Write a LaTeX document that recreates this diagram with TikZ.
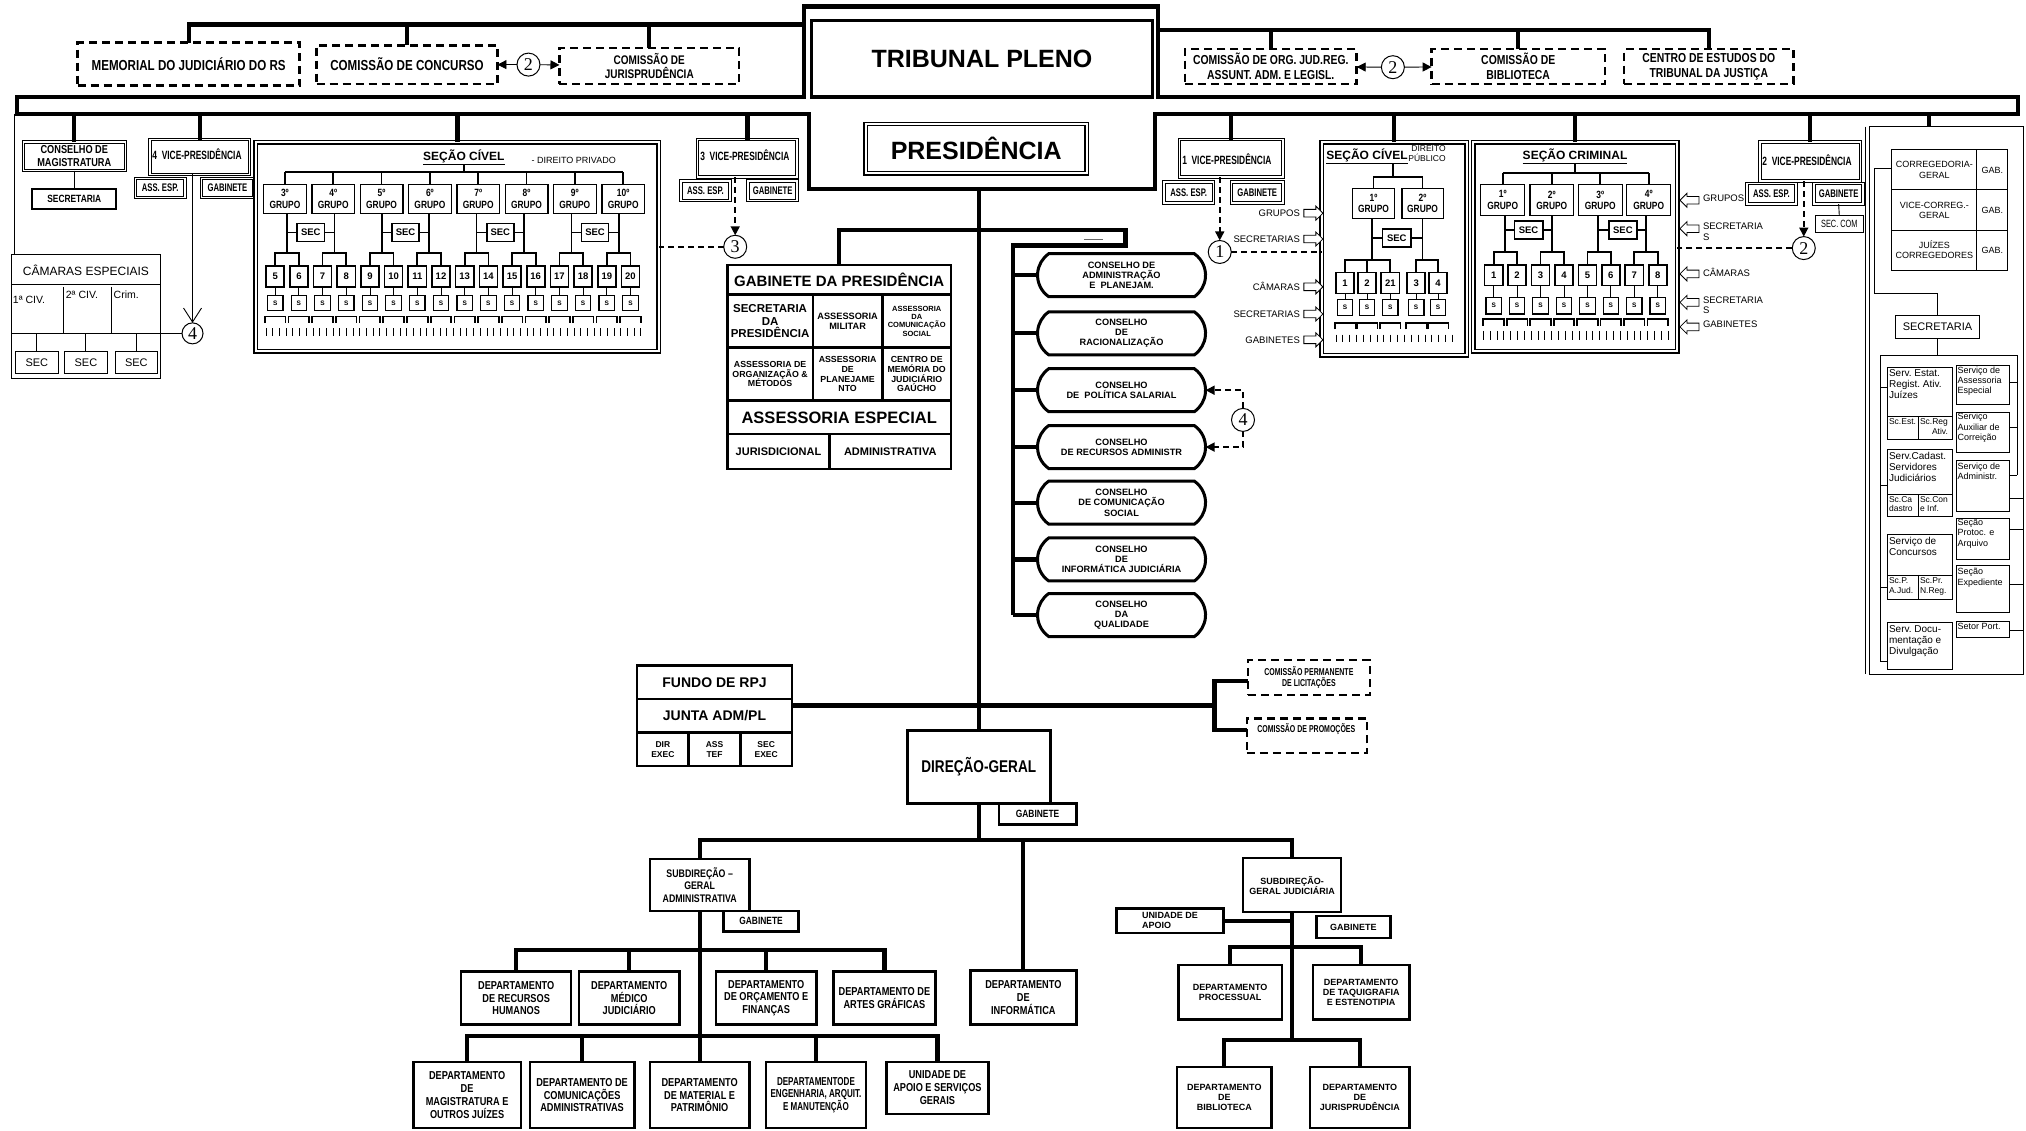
\documentclass[tikz,border=0pt]{standalone}
\usepackage{fontspec}
\setmainfont{Liberation Sans}
\newfontfamily\nar[FakeStretch=0.8]{Liberation Sans}
\newfontfamily\vnar[FakeStretch=0.7]{Liberation Sans}
\newfontfamily\sernum{Liberation Serif}
\usetikzlibrary{shapes.misc,shapes.arrows,arrows.meta}
\newcommand\fs[1]{\fontsize{#1}{\the\dimexpr #1pt*112/100\relax}\selectfont}
% box from corner (x1,y1) to (x2,y2), in picture units
\newcommand\BX[7][]{%
  \pgfmathsetmacro\bxw{(#5-(#3))*1.2921}%
  \pgfmathsetmacro\bxh{(#6-(#4))*1.2921}%
  \node[#1,minimum width=\bxw pt,minimum height=\bxh pt] (#2) at ({((#3)+(#5))/2},{((#4)+(#6))/2}) {#7};}
\begin{document}
\begin{tikzpicture}[x=1.2921pt,y=-1.2921pt,
 every node/.style={inner sep=0pt,outer sep=0pt,align=center},
 bx/.style={draw,line width=2.4pt,fill=white},
 dbl/.style={draw,double,double distance=1.5pt,line width=1pt,fill=white},
 dsh/.style={draw,line width=2.6pt,dash pattern=on 8pt off 5pt,fill=white},
 thn/.style={draw,line width=0.9pt,fill=white},
 grp/.style={draw,line width=1.3pt,fill=white,font=\nar\bfseries\fs{10.5}},
 cam/.style={draw,line width=1.6pt,fill=white,font=\bfseries\fs{9.5}},
 sbx/.style={draw,line width=1.2pt,fill=white,font=\bfseries\fs{6.5}},
 secb/.style={draw,line width=1.7pt,fill=white,font=\bfseries\fs{9.5}},
 lnThick/.style={line width=4.2pt},
 lnMed/.style={line width=1.7pt},
 lnThin/.style={line width=0.9pt},
 dsl/.style={line width=1.6pt,dash pattern=on 6pt off 4pt},
 arrtip/.style={-{Triangle[length=9pt,width=9pt]}},
 circ/.style={circle,draw,line width=1pt,minimum size=23pt,fill=white,font=\sernum\fs{18}},
 har/.style={single arrow,draw,line width=0.8pt,fill=white,minimum height=19pt,inner xsep=0pt,inner ysep=3.4pt,single arrow head extend=3.2pt},
 cons/.style={rounded rectangle,rounded rectangle arc length=110,draw,line width=3pt,fill=white,minimum width=168pt,minimum height=43pt,font=\bfseries\fs{9.2}},
 lbl/.style={font=\fs{9.5}},
 dept/.style={bx,font=\nar\bfseries\fs{11.5}},
 deptw/.style={bx,font=\bfseries\fs{9}},
]
\useasboundingbox (0,0) rectangle (1568,875);

% ---------- frame of Tribunal Pleno / Presidencia and the two bars
\draw[lnThick] (13,75) -- (622,75) -- (622,5) -- (896,5) -- (896,75) -- (1562,75) -- (1562,88)
  -- (894,88) -- (894,146) -- (626,146) -- (626,88) -- (13,88) -- cycle;
\coordinate (bl) at (0,88);

% ---------- top row
\BX[dsh,font=\nar\bfseries\fs{14.5}]{memo}{60}{33}{232}{66}{MEMORIAL DO JUDICIÁRIO DO RS}
\BX[dsh,font=\nar\bfseries\fs{14.5}]{ccon}{245}{35}{385}{65}{COMISSÃO DE CONCURSO}
\node[circ] (ctwoa) at (409,50) {2};
\BX[dsh,font=\nar\bfseries\fs{12.5}]{cjur}{433}{37}{572}{65}{COMISSÃO DE\\JURISPRUDÊNCIA}
\draw[lnThin,arrtip] (ctwoa) -- (ccon);
\draw[lnThin,arrtip] (ctwoa) -- (cjur);
\coordinate (tl) at (622,19);
\draw[lnThick] (memo.north) |- (tl);
\draw[lnThick] (ccon.north) -- (ccon.north |- tl);
\draw[lnThick] (cjur.north) -- (cjur.north |- tl);

\BX[bx,line width=3.2pt,font=\bfseries\fs{25}]{tp}{628}{16}{892}{75}{TRIBUNAL PLENO}

\BX[dsh,font=\nar\bfseries\fs{13}]{corg}{917}{38}{1050}{65}{COMISSÃO DE ORG. JUD.REG.\\ASSUNT. ADM. E LEGISL.}
\node[circ] (ctwob) at (1078,52) {2};
\BX[dsh,font=\nar\bfseries\fs{13}]{cbib}{1108}{38}{1242}{65}{COMISSÃO DE\\BIBLIOTECA}
\BX[dsh,font=\nar\bfseries\fs{13}]{cest}{1257}{38}{1388}{65}{CENTRO DE ESTUDOS DO\\TRIBUNAL DA JUSTIÇA}
\draw[lnThin,arrtip] (ctwob) -- (corg);
\draw[lnThin,arrtip] (ctwob) -- (cbib);
\coordinate (tr) at (896,23);
\draw[lnThick] (cest.north) |- (tr);
\draw[lnThick] (corg.north) -- (corg.north |- tr);
\draw[lnThick] (cbib.north) -- (cbib.north |- tr);

\BX[dbl,line width=1.4pt,double distance=2pt,font=\bfseries\fs{25}]{pres}{670}{96}{841}{134}{PRESIDÊNCIA}

% ---------- left branch
\BX[dbl,font=\nar\bfseries\fs{11.5}]{cmag}{18}{110}{97}{132}{CONSELHO DE\\MAGISTRATURA}
\BX[bx,line width=2pt,font=\nar\bfseries\fs{10.5}]{secm}{25}{146}{90}{162}{SECRETARIA}
\draw[lnThick] (cmag.north) -- (cmag.north |- bl);
\draw[lnThin] (cmag.south) -- (secm.north);

\BX[dbl]{vpq}{116}{108}{193}{135}{}
\node[anchor=west,font=\vnar\bfseries\fs{12}] (vpqt) at (118,119) {4\ \ VICE-PRESIDÊNCIA};
\BX[dbl,font=\vnar\bfseries\fs{11}]{assq}{105}{138}{143}{153}{ASS. ESP.}
\BX[dbl,font=\vnar\bfseries\fs{11}]{gabq}{156}{138}{196}{153}{GABINETE}
\draw[lnThick] (vpq.north) -- (vpq.north |- bl);
\node[circ,minimum size=21pt] (cfoura) at (149,258) {4};
\draw[lnThin,-{Straight Barb[length=14pt,width=18pt]}] (vpq.south -| cfoura) -- (cfoura.north);

% Camaras especiais
\coordinate (blc) at (11,88);
\BX[thn]{cesp}{9}{197}{124}{293}{}
\draw[lnThin] (blc) -- (blc |- cesp.north);
\node[font=\fs{12}] (cespt) at (66.5,209) {CÂMARAS ESPECIAIS};
\draw[lnThin] (9,220) -- (124,220);
\draw[lnThin] (49,222) -- (49,258);
\draw[lnThin] (86,222) -- (86,258);
\draw[lnThin] (9,258) -- (cfoura.west);
\node[anchor=north west,font=\fs{10.5}] (cca) at (10,229) {1ª CIV.};
\node[anchor=north west,font=\fs{10.5}] (ccb) at (51,225) {2ª CIV.};
\node[anchor=north west,font=\fs{10.5}] (ccc) at (88,225) {Crim.};
\coordinate (ch) at (0,258);
\BX[thn,font=\fs{11}]{csa}{12}{272}{45}{289}{SEC}
\BX[thn,font=\fs{11}]{csb}{50}{272}{83}{289}{SEC}
\BX[thn,font=\fs{11}]{csc}{89}{272}{122}{289}{SEC}
\foreach \s in {csa,csb,csc} \draw[lnThin] (\s.north) -- (\s.north |- ch);

% Secao civel - direito privado
\BX[dbl,line width=1.5pt,double distance=2pt]{scp}{198}{110}{510}{272}{}
\draw[lnThick] (scp.north) -- (scp.north |- bl);
\node[font=\bfseries\fs{12}] (scpt) at (359,122) {\underline{SEÇÃO CÍVEL}};
\node[font=\fs{9}] (scps) at (444,124) {- DIREITO PRIVADO};
\coordinate (scph) at (0,133);
\foreach \i in {1,...,8}{
  \pgfmathsetmacro\gx{220.5+37.4*(\i-1)}
  \pgfmathtruncatemacro\gn{\i+2}
  \BX[grp]{pg\i}{\gx-16.5}{143}{\gx+16.5}{165}{\gn º\\GRUPO}
  \pgfmathsetmacro\vx{222.2+36.67*(\i-1)}
  \coordinate (pv\i) at (\vx,196);
  \draw[lnMed] (pg\i.south -| pv\i) -- (pv\i);
  \draw[lnMed] (pg\i.north) -- (pg\i.north |- scph);
}
\draw[lnMed] (pg1.north |- scph) -- (pg8.north |- scph);
\draw[lnMed] (scpt.south) -- (scpt.south |- scph);
\foreach \k in {1,...,16}{
  \pgfmathsetmacro\cx{213+18.33*(\k-1)}
  \pgfmathtruncatemacro\cnum{\k+4}
  \BX[cam]{pc\k}{\cx-7}{206}{\cx+7}{222}{\cnum}
  \BX[sbx]{ps\k}{\cx-6}{229}{\cx+6}{240}{S}
  \draw[lnThin] (pc\k.south) -- (ps\k.north);
  \draw[lnMed] ({\cx-8},250) -- ({\cx-8},245) -- ({\cx+8},245) -- ({\cx+8},250);
}
\foreach \j in {1,...,8}{
  \pgfmathtruncatemacro\cmA{2*\j-1}
  \pgfmathtruncatemacro\cmB{2*\j}
  \draw[lnMed] (pc\cmA.north) |- (pv\j) -| (pc\cmB.north);
}
\foreach \pp in {1,...,4}{
  \pgfmathtruncatemacro\gA{2*\pp-1}
  \pgfmathtruncatemacro\gB{2*\pp}
  \pgfmathsetmacro\sx{222.2+36.67*(2*\pp-2)+18.33}
  \BX[secb]{pse\pp}{\sx-10.5}{173}{\sx+10.5}{187}{SEC}
  \draw[lnMed] (pse\pp.west) -- (pse\pp.west -| pv\gA);
  \draw[lnMed] (pse\pp.east) -- (pse\pp.east -| pv\gB);
}
\foreach \tk in {0,...,56} \draw[line width=1pt] ({206+5.18*\tk},254) -- ({206+5.18*\tk},260);

% 3 vice-presidencia
\BX[dbl]{vpt}{540}{108}{617}{137}{}
\node[anchor=west,font=\vnar\bfseries\fs{12}] (vptt) at (542,120) {3\ \ VICE-PRESIDÊNCIA};
\BX[dbl,font=\vnar\bfseries\fs{11}]{asst}{527}{140}{565}{155}{ASS. ESP.}
\BX[dbl,font=\vnar\bfseries\fs{11}]{gabt}{579}{140}{617}{155}{GABINETE}
\draw[lnThick] (vpt.north) -- (vpt.north |- bl);
\node[circ] (cthree) at (569,191) {3};
\draw[dsl,arrtip] (vpt.south -| cthree) -- (cthree.north);
\draw[dsl] (cthree.west) -- (cthree.west -| scp.east);

% ---------- centre
\BX[bx,line width=3pt,font=\nar\bfseries\fs{17}]{dg}{702}{565}{813}{622}{DIREÇÃO-GERAL}
\coordinate (pf) at (757.5,146);
\draw[lnThick] (pf) -- (dg.north);

\BX[bx,font=\bfseries\fs{15}]{gp}{563}{205}{736}{228}{GABINETE DA PRESIDÊNCIA}
\BX[bx,font=\bfseries\fs{11.5}]{gpa}{563}{228}{629}{269}{SECRETARIA\\DA\\PRESIDÊNCIA}
\BX[bx,font=\bfseries\fs{9.2}]{gpb}{629}{228}{683}{269}{ASSESSORIA\\MILITAR}
\BX[bx,font=\bfseries\fs{7.5}]{gpc}{683}{228}{736}{269}{ASSESSORIA\\DA\\COMUNICAÇÃO\\SOCIAL}
\BX[bx,font=\bfseries\fs{8.8}]{gpd}{563}{269}{629}{310}{ASSESSORIA DE\\ORGANIZAÇÃO \&\\MÉTODOS}
\BX[bx,font=\bfseries\fs{8.8}]{gpe}{629}{269}{683}{310}{ASSESSORIA\\DE\\PLANEJAME\\NTO}
\BX[bx,font=\bfseries\fs{8.8}]{gpf}{683}{269}{736}{310}{CENTRO DE\\MEMÓRIA DO\\JUDICIÁRIO\\GAÚCHO}
\BX[bx,font=\bfseries\fs{16.5}]{gpg}{563}{310}{736}{336}{ASSESSORIA ESPECIAL}
\BX[bx,font=\bfseries\fs{11}]{gph}{563}{336}{642}{363}{JURISDICIONAL}
\BX[bx,font=\bfseries\fs{11}]{gpi}{642}{336}{736}{363}{ADMINISTRATIVA}
\coordinate (br) at (757.5,178);
\draw[lnThick] (gp.north) |- (br);

\node[cons] (ka) at (868,213) {CONSELHO DE\\ADMINISTRAÇÃO\\E\ \ PLANEJAM.};
\node[cons] (kb) at (868,258) {CONSELHO\\DE\\RACIONALIZAÇÃO};
\node[cons] (kc) at (868,302) {CONSELHO\\DE\ \ POLÍTICA SALARIAL};
\node[cons] (kd) at (868,346) {CONSELHO\\DE RECURSOS ADMINISTR};
\node[cons] (ke) at (868,389) {CONSELHO\\DE COMUNICAÇÃO\\SOCIAL};
\node[cons] (kf) at (868,433) {CONSELHO\\DE\\INFORMÁTICA JUDICIÁRIA};
\node[cons] (kg) at (868,476) {CONSELHO\\DA\\QUALIDADE};
\coordinate (bra) at (871,178);
\coordinate (brb) at (871,190);
\coordinate (cs) at (784,190);
\draw[lnThick] (br) -- (bra) -- (brb) -- (cs) -- (cs |- kg.west);
\foreach \kk in {ka,kb,kc,kd,ke,kf,kg} \draw[lnThick] (cs |- \kk.west) -- (\kk.west);
\draw[line width=1.3pt,black!60] (839,185.5) -- (854,185.5);
\node[circ] (cfourb) at (962,325) {4};
\draw[dsl,arrtip] (cfourb.north) |- (kc.east);
\draw[dsl,arrtip] (cfourb.south) |- (kd.east);

% Fundo / Junta
\BX[bx,font=\bfseries\fs{14}]{fra}{493}{515}{613}{541}{FUNDO DE RPJ}
\BX[bx,font=\bfseries\fs{14}]{frb}{493}{541}{613}{567}{JUNTA ADM/PL}
\BX[bx,font=\bfseries\fs{8.5}]{frc}{493}{567}{533}{593}{DIR\\EXEC}
\BX[bx,font=\bfseries\fs{8.5}]{frd}{533}{567}{573}{593}{ASS\\TEF}
\BX[bx,font=\bfseries\fs{8.5}]{fre}{573}{567}{613}{593}{SEC\\EXEC}
\BX[dsh,line width=2.2pt,font=\vnar\bfseries\fs{10}]{cpl}{966}{511}{1060}{538}{COMISSÃO PERMANENTE\\DE LICITAÇÕES}
\BX[dsh,line width=2.2pt]{cpr}{965}{556}{1058}{583}{}
\node[font=\vnar\bfseries\fs{10}] (cprt) at (1011,564) {COMISSÃO DE PROMOÇÕES};
\coordinate (cj) at (940,546);
\coordinate (cjt) at (940,527);
\coordinate (cjb) at (940,565);
\draw[lnThick] (frb.east |- cj) -- (cj);
\draw[lnThick] (cpl.west |- cjt) -- (cjt) -- (cjb) -- (cpr.west |- cjb);

\BX[bx,font=\nar\bfseries\fs{10.5}]{dgg}{773}{622}{833}{638}{GABINETE}

% Subdirecao administrativa
\BX[bx,font=\nar\bfseries\fs{11}]{sga}{503}{665}{580}{705}{SUBDIREÇÃO –\\GERAL\\ADMINISTRATIVA}
\BX[bx,font=\nar\bfseries\fs{10.5}]{sgag}{560}{705}{618}{721}{GABINETE}
\BX[dept]{drh}{357}{752}{442}{793}{DEPARTAMENTO\\DE RECURSOS\\HUMANOS}
\BX[dept]{dmed}{448}{752}{526}{793}{DEPARTAMENTO\\MÉDICO\\JUDICIÁRIO}
\BX[dept]{dorc}{554}{752}{632}{793}{DEPARTAMENTO\\DE ORÇAMENTO E\\FINANÇAS}
\BX[dept]{dart}{645}{752}{724}{793}{DEPARTAMENTO DE\\ARTES GRÁFICAS}
\BX[dept]{dmag}{320}{822}{403}{873}{DEPARTAMENTO\\DE\\MAGISTRATURA E\\OUTROS JUÍZES}
\BX[dept]{dcom}{410}{822}{491}{873}{DEPARTAMENTO DE\\COMUNICAÇÕES\\ADMINISTRATIVAS}
\BX[dept]{dmat}{503}{822}{580}{873}{DEPARTAMENTO\\DE MATERIAL E\\PATRIMÔNIO}
\BX[dept,font=\vnar\bfseries\fs{11.5}]{deng}{593}{822}{670}{873}{DEPARTAMENTODE\\ENGENHARIA, ARQUIT.\\E MANUTENÇÃO}
\BX[dept]{duni}{686}{822}{765}{862}{UNIDADE DE\\APOIO E SERVIÇOS\\GERAIS}
\BX[dept]{dinf}{751}{751}{833}{793}{DEPARTAMENTO\\DE\\INFORMÁTICA}

% Subdirecao judiciaria
\BX[deptw]{sgj}{962}{664}{1038}{706}{SUBDIREÇÃO-\\GERAL JUDICIÁRIA}
\BX[deptw]{sgjg}{1019}{709}{1076}{726}{GABINETE}
\BX[deptw,align=left]{uap}{864}{703}{947}{722}{UNIDADE DE\\APOIO}
\BX[deptw]{dproc}{912}{747}{992}{789}{DEPARTAMENTO\\PROCESSUAL}
\BX[deptw]{dtaq}{1016}{747}{1091}{789}{DEPARTAMENTO\\DE TAQUIGRAFIA\\E ESTENOTIPIA}
\BX[deptw]{dbib}{911}{826}{984}{873}{DEPARTAMENTO\\DE\\BIBLIOTECA}
\BX[deptw]{djur}{1014}{826}{1091}{873}{DEPARTAMENTO\\DE\\JURISPRUDÊNCIA}

% connectors of the lower part
\coordinate (db) at (757.5,650);
\draw[lnThick] (dg.south) -- (db);
\draw[lnThick] (sga.north) |- (db) -| (sgj.north);
\draw[lnThick] (dinf.north) -- (dinf.north |- db);
\coordinate (ra) at (541.5,735);
\coordinate (rb) at (541.5,802);
\draw[lnThick] (sga.south) -- (dmat.north);
\draw[lnThick] (drh.north) |- (ra) -| (dart.north);
\draw[lnThick] (dmed.north) -- (dmed.north |- ra);
\draw[lnThick] (dorc.north) -- (dorc.north |- ra);
\draw[lnThick] (dmag.north) |- (rb) -| (duni.north);
\draw[lnThick] (dcom.north) -- (dcom.north |- rb);
\draw[lnThick] (deng.north) -- (deng.north |- rb);
\coordinate (rc) at (1000,733);
\coordinate (rd) at (1000,805);
\draw[lnThick] (sgj.south) -- (rd);
\draw[lnThick] (uap.east) -- (uap.east -| sgj.south);
\draw[lnThick] (dproc.north) |- (rc) -| (dtaq.north);
\draw[lnThick] (dbib.north) |- (rd) -| (djur.north);

% ---------- right branch
\BX[dbl]{vpo}{913}{108}{993}{137}{}
\node[anchor=west,font=\vnar\bfseries\fs{12}] (vpot) at (915,123) {1\ \ VICE-PRESIDÊNCIA};
\BX[dbl,font=\vnar\bfseries\fs{11}]{asso}{901}{141}{939}{157}{ASS. ESP.}
\BX[dbl,font=\vnar\bfseries\fs{11}]{gabo}{953}{141}{993}{157}{GABINETE}
\draw[lnThick] (vpo.north) -- (vpo.north |- bl);
\node[circ] (cone) at (944,195) {1};
\draw[dsl,arrtip] (vpo.south -| cone) -- (cone.north);

% Secao civel - direito publico
\BX[dbl,line width=1.5pt,double distance=2pt]{scv}{1023}{110}{1135}{275}{}
\draw[lnThick] (scv.north) -- (scv.north |- bl);
\draw[dsl] (cone.east) -- (cone.east -| scv.west);
\node[font=\bfseries\fs{12}] (scvt) at (1058,121) {\underline{SEÇÃO CÍVEL}};
\node[font=\fs{8.5},align=right,anchor=north west] (scvs) at (1090,113) {DIREITO\\PÚBLICO};
\BX[grp]{vga}{1047}{146}{1079}{169}{1º\\GRUPO}
\BX[grp]{vgb}{1085}{146}{1117}{169}{2º\\GRUPO}
\coordinate (scvh) at (0,137);
\coordinate (scvv) at (1078,127);
\draw[lnMed] (scvv) -- (scvv |- scvh);
\draw[lnMed] (vga.north) -- (vga.north |- scvh) -- (vgb.north |- scvh) -- (vgb.north);
\coordinate (vva) at (1062,201);
\coordinate (vvb) at (1101,201);
\draw[lnMed] (vga.south -| vva) -- (vva);
\draw[lnMed] (vgb.south -| vvb) -- (vvb);
\BX[secb]{vse}{1070}{177}{1092}{191}{SEC}
\draw[lnMed] (vse.west) -- (vse.west -| vva);
\draw[lnMed] (vse.east) -- (vse.east -| vvb);
\foreach \k/\nn/\cx in {1/1/1041,2/2/1058,3/21/1076,4/3/1096,5/4/1113}{
  \BX[cam]{vc\k}{\cx-7}{211}{\cx+7}{227}{\nn}
  \BX[sbx]{vs\k}{\cx-6}{232}{\cx+6}{244}{S}
  \draw[lnThin] (vc\k.south) -- (vs\k.north);
  \draw[lnMed] ({\cx-8},255) -- ({\cx-8},250) -- ({\cx+8},250) -- ({\cx+8},255);
}
\draw[lnMed] (vc1.north) |- (vva) -| (vc3.north);
\draw[lnMed] (vc2.north) -- (vc2.north |- vva);
\draw[lnMed] (vc4.north) |- (vvb) -| (vc5.north);
\foreach \tk in {0,...,17} \draw[line width=1pt] ({1034+5.3*\tk},259) -- ({1034+5.3*\tk},265);
\foreach \nn/\yy/\lb in {1/165/GRUPOS,2/185/SECRETARIAS,3/222/CÂMARAS,4/243/SECRETARIAS,5/263/GABINETES}{
  \node[har] (la\nn) at (1015,\yy) {};
  \node[lbl,anchor=east] (lt\nn) at (1006,\yy) {\lb};
}

% Secao criminal
\BX[dbl,line width=1.5pt,double distance=2pt]{scr}{1140}{110}{1298}{272}{}
\draw[lnThick] (scr.north) -- (scr.north |- bl);
\node[font=\bfseries\fs{12}] (scrt) at (1219,121) {\underline{SEÇÃO CRIMINAL}};
\coordinate (scrh) at (0,134);
\foreach \i/\gx/\vx in {1/1163/1165,2/1201/1201,3/1238.5/1237,4/1276/1274}{
  \BX[grp]{cg\i}{\gx-17}{143}{\gx+17}{167}{\i º\\GRUPO}
  \coordinate (cv\i) at (\vx,195);
  \draw[lnMed] (cg\i.south -| cv\i) -- (cv\i);
  \draw[lnMed] (cg\i.north) -- (cg\i.north |- scrh);
}
\draw[lnMed] (cg1.north |- scrh) -- (cg4.north |- scrh);
\draw[lnMed] (scrt.south) -- (scrt.south |- scrh);
\foreach \k in {1,...,8}{
  \pgfmathsetmacro\cx{1156+18.14*(\k-1)}
  \BX[cam]{rc\k}{\cx-7}{205}{\cx+7}{221}{\k}
  \BX[sbx]{rs\k}{\cx-6}{230}{\cx+6}{243}{S}
  \draw[lnThin] (rc\k.south) -- (rs\k.north);
  \draw[lnMed] ({\cx-8},252) -- ({\cx-8},247) -- ({\cx+8},247) -- ({\cx+8},252);
}
\foreach \j in {1,...,4}{
  \pgfmathtruncatemacro\cmA{2*\j-1}
  \pgfmathtruncatemacro\cmB{2*\j}
  \draw[lnMed] (rc\cmA.north) |- (cv\j) -| (rc\cmB.north);
}
\BX[secb]{csea}{1172}{171}{1194}{185}{SEC}
\BX[secb]{cseb}{1245}{171}{1267}{185}{SEC}
\draw[lnMed] (csea.west) -- (csea.west -| cv1);
\draw[lnMed] (csea.east) -- (csea.east -| cv2);
\draw[lnMed] (cseb.west) -- (cseb.west -| cv3);
\draw[lnMed] (cseb.east) -- (cseb.east -| cv4);
\foreach \tk in {0,...,27} \draw[line width=1pt] ({1148+5.3*\tk},256) -- ({1148+5.3*\tk},263);
\foreach \nn/\yy/\lb in {1/155/GRUPOS,2/177/SECRETARIA\\S,3/212/CÂMARAS,4/234/SECRETARIA\\S,5/253/GABINETES}{
  \node[har,shape border rotate=180] (rl\nn) at (1309,\yy) {};
  \node[lbl,anchor=north west,align=left] (rt\nn) at (1318,\yy-4.5) {\lb};
}

% 2 vice-presidencia
\BX[dbl]{vpw}{1362}{110}{1440}{140}{}
\node[anchor=west,font=\vnar\bfseries\fs{12}] (vpwt) at (1364,124) {2\ \ VICE-PRESIDÊNCIA};
\BX[dbl,font=\vnar\bfseries\fs{11}]{assw}{1352}{142}{1390}{158}{ASS. ESP.}
\BX[dbl,font=\vnar\bfseries\fs{11}]{gabw}{1404}{142}{1442}{158}{GABINETE}
\BX[draw,line width=1.3pt,fill=white,font=\vnar\fs{10.5}]{scom}{1405}{167}{1442}{180}{SEC. COM}
\draw[lnThin] (gabw.south) -- (scom.north);
\draw[lnThick] (vpw.north) -- (vpw.north |- bl);
\node[circ] (ctwoc) at (1396,192) {2};
\draw[dsl,arrtip] (vpw.south -| ctwoc) -- (ctwoc.north);
\draw[dsl] (ctwoc.west) -- (ctwoc.west -| scr.east);

% ---------- corregedoria
\BX[draw,line width=0.9pt]{cfr}{1447}{98}{1566}{522}{}
\draw[lnThin] (1444,98) -- (1444,522);
\coordinate (cdrop) at (1493,88);
\draw[lnThick] (cdrop) -- (cdrop |- cfr.north);
\BX[thn,font=\fs{9}]{cga}{1464}{116}{1530}{147}{CORREGEDORIA-\\GERAL}
\BX[thn,font=\fs{9}]{cgb}{1530}{116}{1554}{147}{GAB.}
\BX[thn,font=\fs{9}]{cgc}{1464}{147}{1530}{178}{VICE-CORREG.-\\GERAL}
\BX[thn,font=\fs{9}]{cgd}{1530}{147}{1554}{178}{GAB.}
\BX[thn,font=\fs{9}]{cge}{1464}{178}{1530}{209}{JUÍZES\\CORREGEDORES}
\BX[thn,font=\fs{9}]{cgf}{1530}{178}{1554}{209}{GAB.}
\BX[thn,font=\fs{11}]{csec}{1467}{244}{1532}{262}{SECRETARIA}
\coordinate (kxa) at (1451,130);
\coordinate (kxb) at (1451,227);
\draw[lnThin] (cga.west |- kxa) -- (kxa) -- (kxb) -| (csec.north);
\coordinate (kxc) at (1499.5,275);
\draw[lnThin] (csec.south) -- (kxc);
\draw[lnThin] (1455,275) -- (1561,275);
\draw[lnThin] (1455,275) -- (1455,512) -- (1461,512);
\draw[lnThin] (1561,275) -- (1561,368);
% left column
\BX[thn]{sea}{1461}{284}{1511}{340}{}
\BX[thn]{seb}{1461}{348}{1511}{400}{}
\BX[thn]{sec}{1461}{414}{1511}{464}{}
\BX[thn]{sed}{1461}{482}{1511}{518}{}
\node[anchor=north west,align=left,font=\fs{10}] (seat) at (1462,286) {Serv.\ Estat.\\Regist.\ Ativ.\\Juízes};
\node[anchor=north west,align=left,font=\fs{10}] (sebt) at (1462,350) {Serv.Cadast.\\Servidores\\Judiciários};
\node[anchor=north west,align=left,font=\fs{10}] (sect) at (1462,416) {Serviço de\\Concursos};
\node[anchor=north west,align=left,font=\fs{10}] (sedt) at (1462,484) {Serv.\ Docu-\\mentação e\\Divulgação};
\draw[lnThin] (1461,322) -- (1511,322); \draw[lnThin] (1485,322) -- (1485,340);
\draw[lnThin] (1461,383) -- (1511,383); \draw[lnThin] (1485,383) -- (1485,400);
\draw[lnThin] (1461,445) -- (1511,445); \draw[lnThin] (1485,445) -- (1485,464);
\node[anchor=north west,align=left,font=\fs{8.5}] (ssa) at (1462,324) {Sc.Est.};
\node[anchor=north west,align=right,font=\fs{8.5}] (ssb) at (1486,324) {Sc.Reg\\Ativ.};
\node[anchor=north west,align=left,font=\fs{8.5}] (ssc) at (1462,384) {Sc.Ca\\dastro};
\node[anchor=north west,align=left,font=\fs{8.5}] (ssd) at (1486,384) {Sc.Con\\e Inf.};
\node[anchor=north west,align=left,font=\fs{8.5}] (sse) at (1462,447) {Sc.P.\\A.Jud.};
\node[anchor=north west,align=left,font=\fs{8.5}] (ssf) at (1486,447) {Sc.Pr.\\N.Reg.};
\foreach \yy in {300,376,455} \draw[lnThin] (1455,\yy) -- (1461,\yy);
% right column
\BX[thn]{rba}{1514}{283}{1555}{313}{}
\BX[thn]{rbb}{1514}{319}{1555}{350}{}
\BX[thn]{rbc}{1514}{356}{1555}{396}{}
\BX[thn]{rbd}{1514}{401}{1555}{433}{}
\BX[thn]{rbe}{1514}{438}{1555}{474}{}
\BX[thn]{rbf}{1514}{481}{1555}{493}{}
\node[anchor=north west,align=left,font=\fs{9}] (rbat) at (1515,284) {Serviço de\\Assessoria\\Especial};
\node[anchor=north west,align=left,font=\fs{9}] (rbbt) at (1515,320) {Serviço\\Auxiliar de\\Correição};
\node[anchor=north west,align=left,font=\fs{9}] (rbct) at (1515,358) {Serviço de\\Administr.};
\node[anchor=north west,align=left,font=\fs{9}] (rbdt) at (1515,402) {Seção\\Protoc. e\\Arquivo};
\node[anchor=north west,align=left,font=\fs{9}] (rbet) at (1515,440) {Seção\\Expediente};
\node[anchor=north west,align=left,font=\fs{9}] (rbft) at (1515,482) {Setor Port.};
\foreach \yy in {296,331,368} \draw[lnThin] (1555,\yy) -- (1561,\yy);
\foreach \yy in {386,410,452,488} \draw[lnThin] (1555,\yy) -- (1566,\yy);
\end{tikzpicture}
\end{document}
